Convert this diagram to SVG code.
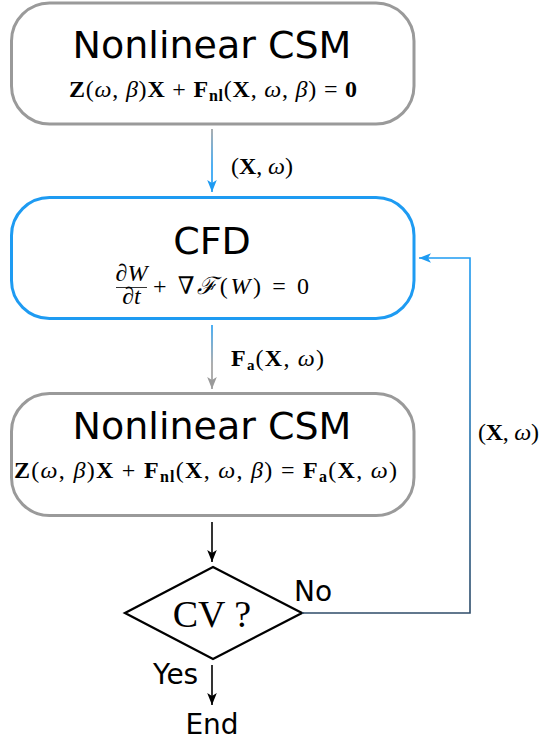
<svg xmlns="http://www.w3.org/2000/svg" width="541" height="740" viewBox="0 0 541 740">
<style>
.box{fill:#fff;stroke-width:3}
.gray{stroke:#9a9a9a}
.blue{stroke:#1e9bf2}
.title{font-family:"DejaVu Sans",sans-serif;font-size:38px;fill:#000;text-anchor:middle}
.lbl{font-family:"DejaVu Sans",sans-serif;font-size:28px;fill:#000}
.m{font-family:"Liberation Serif","DejaVu Serif",serif;font-size:24px;fill:#000}
.b{font-weight:bold}
.i{font-style:italic}
.con{fill:none;stroke-width:1.6}
</style>
<defs>
<linearGradient id="g1" gradientUnits="userSpaceOnUse" x1="0" y1="128" x2="0" y2="192"><stop offset="0" stop-color="#9a9a9a"/><stop offset="0.6" stop-color="#1e9bf2"/></linearGradient>
<linearGradient id="g2" gradientUnits="userSpaceOnUse" x1="0" y1="325" x2="0" y2="390"><stop offset="0" stop-color="#1e9bf2"/><stop offset="0.6" stop-color="#9a9a9a"/></linearGradient>
<linearGradient id="g3" gradientUnits="userSpaceOnUse" x1="0" y1="258" x2="0" y2="614"><stop offset="0" stop-color="#1e9bf2"/><stop offset="1" stop-color="#2e4b68"/></linearGradient>
<marker id="ab" markerUnits="userSpaceOnUse" markerWidth="16" markerHeight="12" refX="12" refY="6" orient="auto"><path d="M12,6 L0,1.2 L3,6 L0,10.8 Z" fill="#1e9bf2"/></marker>
<marker id="ag" markerUnits="userSpaceOnUse" markerWidth="16" markerHeight="12" refX="12" refY="6" orient="auto"><path d="M12,6 L0,1.2 L3,6 L0,10.8 Z" fill="#9a9a9a"/></marker>
<marker id="ak" markerUnits="userSpaceOnUse" markerWidth="16" markerHeight="12" refX="12" refY="6" orient="auto"><path d="M12,6 L0,1.2 L3,6 L0,10.8 Z" fill="#000"/></marker>
</defs>

<g id="csm1">
<rect class="box gray" x="11.5" y="3" width="402.5" height="121" rx="38"/>
<text class="title" x="212" y="58">Nonlinear CSM</text>
<text class="m" x="69" y="97" textLength="288" lengthAdjust="spacing"><tspan class="b">Z</tspan>(<tspan class="i">ω</tspan>, <tspan class="i">β</tspan>)<tspan class="b">X</tspan> + <tspan class="b">F</tspan><tspan class="b" font-size="16" dy="4">nl</tspan><tspan dy="-4">(</tspan><tspan class="b">X</tspan>, <tspan class="i">ω</tspan>, <tspan class="i">β</tspan>) = <tspan class="b">0</tspan></text>
</g>

<g id="cfd">
<rect class="box blue" x="11.5" y="197.5" width="402.5" height="121" rx="38" stroke-width="3.5"/>
<text class="title" x="212" y="254">CFD</text>
<text class="m" font-size="15" text-anchor="middle"><tspan x="131.5" y="281">∂<tspan class="i">W</tspan></tspan><tspan x="131.5" y="304">∂<tspan class="i">t</tspan></tspan></text>
<line x1="116" y1="287.5" x2="147" y2="287.5" stroke="#000" stroke-width="0.8"/>
<text class="m" x="153" y="294" textLength="156" lengthAdjust="spacing">+ ∇<tspan class="i" font-family="DejaVu Serif">ℱ</tspan>(<tspan class="i">W</tspan>) = 0</text>
</g>

<g id="csm2">
<rect class="box gray" x="11.5" y="393.5" width="402.5" height="122" rx="38"/>
<text class="title" x="212" y="439">Nonlinear CSM</text>
<text class="m" x="14" y="478" textLength="383" lengthAdjust="spacing"><tspan class="b">Z</tspan>(<tspan class="i">ω</tspan>, <tspan class="i">β</tspan>)<tspan class="b">X</tspan> + <tspan class="b">F</tspan><tspan class="b" font-size="16" dy="4">nl</tspan><tspan dy="-4">(</tspan><tspan class="b">X</tspan>, <tspan class="i">ω</tspan>, <tspan class="i">β</tspan>) = <tspan class="b">F</tspan><tspan class="b" font-size="16" dy="4">a</tspan><tspan dy="-4">(</tspan><tspan class="b">X</tspan>, <tspan class="i">ω</tspan>)</text>
</g>

<g id="cv">
<polygon points="213,567 302,613 213,659 125,613" fill="#fff" stroke="#000" stroke-width="2.3"/>
<text x="212" y="627" font-family="Liberation Serif,serif" font-size="38" text-anchor="middle">CV ?</text>
</g>

<g id="end">
<text class="lbl" x="212" y="734" text-anchor="middle">End</text>
</g>

<g id="connectors">
<line class="con" x1="212" y1="129" x2="212" y2="192" stroke="url(#g1)" marker-end="url(#ab)"/>
<text class="m" x="231" y="174" font-size="23" textLength="62" lengthAdjust="spacing">(<tspan class="b">X</tspan>, <tspan class="i">ω</tspan>)</text>
<line class="con" x1="212" y1="325" x2="212" y2="389" stroke="url(#g2)" marker-end="url(#ag)"/>
<text class="m" x="231" y="366" font-size="23" textLength="93" lengthAdjust="spacing"><tspan class="b">F</tspan><tspan class="b" font-size="15" dy="4">a</tspan><tspan dy="-4">(</tspan><tspan class="b">X</tspan>, <tspan class="i">ω</tspan>)</text>
<line class="con" x1="212" y1="522" x2="212" y2="562" stroke="#000" marker-end="url(#ak)"/>
<path class="con" d="M302,613 H470 V258 H419" stroke="url(#g3)" marker-end="url(#ab)"/>
<text class="m" x="478" y="440" font-size="23" textLength="61" lengthAdjust="spacing">(<tspan class="b">X</tspan>, <tspan class="i">ω</tspan>)</text>
<text class="lbl" x="294" y="601">No</text>
<line class="con" x1="212" y1="665" x2="212" y2="705" stroke="#000" marker-end="url(#ak)"/>
<text class="lbl" x="153" y="684">Yes</text>
</g>
</svg>
